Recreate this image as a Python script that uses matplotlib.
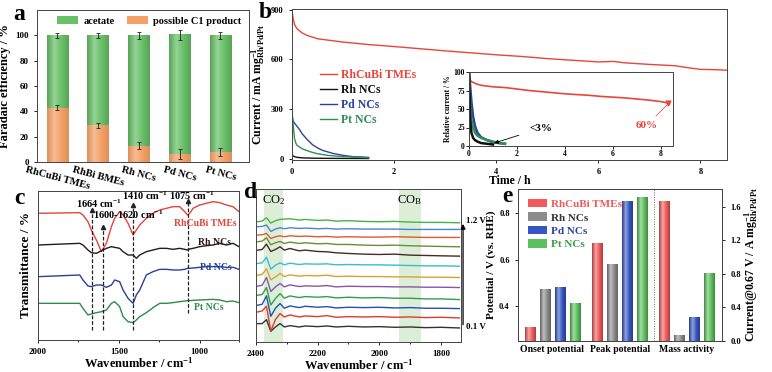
import matplotlib
matplotlib.use("Agg")
import matplotlib.pyplot as plt
from matplotlib.colors import LinearSegmentedColormap, to_rgb
import numpy as np

plt.rcParams['font.family'] = ['Liberation Serif', 'DejaVu Serif']
plt.rcParams['font.weight'] = 'bold'
plt.rcParams['axes.labelweight'] = 'bold'
plt.rcParams['font.size'] = 7
plt.rcParams['axes.linewidth'] = 0.7
plt.rcParams['axes.edgecolor'] = '#444444'
plt.rcParams['xtick.major.size'] = 2.5
plt.rcParams['ytick.major.size'] = 2.5
plt.rcParams['xtick.major.width'] = 0.6
plt.rcParams['ytick.major.width'] = 0.6
plt.rcParams['xtick.labelsize'] = 6.5
plt.rcParams['ytick.labelsize'] = 6.5

# ---- a: faradaic efficiency
cats_a = ['RhCuBi TMEs', 'RhBi BMEs', 'Rh NCs', 'Pd NCs', 'Pt NCs']
fe_c1 = [43, 29, 13, 6, 8]
fe_c1_err = [2, 2, 3, 4, 3]
fe_acetate = [57, 71, 87, 94, 92]
fe_acetate_err = [2, 2, 3, 4, 3]

# ---- b: chronoamperometry
t_rhcubi = [0, 0.02, 0.05, 0.1, 0.2, 0.3, 0.5, 0.75, 1.0, 1.5, 2.0, 2.5, 3.0, 3.5,
            4.0, 4.5, 5.0, 5.5, 6.0, 6.3, 6.5, 7.0, 7.5, 7.8, 8.0, 8.3, 8.52]
i_rhcubi = [900, 850, 810, 785, 760, 745, 725, 715, 705, 690, 678, 665, 652, 640,
            628, 618, 605, 595, 585, 588, 580, 570, 562, 548, 540, 538, 535]
t_pd = [0, 0.02, 0.05, 0.1, 0.15, 0.2, 0.3, 0.4, 0.5, 0.6, 0.8, 1.0, 1.2, 1.5]
i_pd = [260, 230, 215, 195, 175, 150, 115, 85, 65, 50, 32, 20, 12, 8]
t_pt = [0, 0.01, 0.03, 0.05, 0.08, 0.1, 0.2, 0.3, 0.4, 0.5, 0.7, 1.0, 1.3, 1.5]
i_pt = [320, 250, 180, 120, 90, 80, 60, 48, 38, 30, 20, 12, 8, 6]
t_rh = [0, 0.05, 0.1, 0.2, 0.4, 0.7, 1.0, 1.5]
i_rh = [20, 12, 8, 5, 3, 2, 1.5, 1]

# inset: relative current
tr_rhcubi = [0, 0.03, 0.1, 0.3, 0.5, 1, 1.5, 2, 2.5, 3, 3.5, 4, 4.5, 5, 5.5, 6,
             6.5, 7, 7.5, 8, 8.3]
r_rhcubi = [100, 90, 87, 84, 82, 80, 79, 77, 75, 73.5, 72, 70.5, 69.5, 68.5, 67,
            66, 65, 63.5, 62, 60, 58]
tr_fast = [0, 0.05, 0.1, 0.17, 0.25, 0.35, 0.5, 0.75, 1.0, 1.25, 1.5]
r_pd = [100, 80, 60, 40, 27, 18, 12, 8, 5, 4, 3]
r_pt = [100, 55, 35, 25, 18, 14, 11, 8, 6, 4, 3]
r_rh = [100, 35, 18, 11, 8, 6, 4, 3, 2, 1.5, 1]

# ---- c: FTIR
wn_c = [2000, 1742, 1722, 1691, 1670, 1639, 1608, 1577, 1546, 1526, 1495, 1474,
        1443, 1412, 1392, 1371, 1330, 1289, 1247, 1206, 1165, 1124, 1093, 1075,
        1062, 1041, 1000, 959, 918, 876, 835, 794, 757]
ir_rhcubi = [380, 382, 375, 355, 330, 300, 265, 290, 340, 365, 385, 375, 350,
             315, 330, 345, 365, 380, 390, 395, 400, 400, 385, 375, 380, 395,
             405, 410, 415, 412, 405, 400, 385]
ir_rh = [285, 290, 285, 270, 262, 260, 268, 275, 280, 278, 275, 265, 255, 255,
         245, 255, 265, 270, 275, 275, 272, 275, 272, 270, 273, 275, 280, 283,
         285, 290, 285, 290, 280]
ir_pd = [190, 195, 180, 162, 160, 165, 165, 158, 165, 180, 175, 150, 125, 110,
         135, 150, 195, 205, 212, 212, 210, 210, 212, 215, 215, 216, 218, 220,
         220, 220, 218, 218, 212]
ir_pt = [110, 110, 95, 75, 78, 82, 85, 90, 110, 115, 100, 70, 55, 52, 60, 70,
         82, 97, 110, 110, 112, 115, 117, 118, 118, 119, 120, 121, 122, 120,
         115, 117, 112]
peaks_c = [1664, 1600, 1410, 1075]
peak_tops = [390, 340, 405, 418]
peak_bottoms = [30, 30, 30, 80]

# ---- d: in-situ IR
wn_d = [2395, 2380, 2366, 2352, 2337, 2322, 2308, 2290, 2260, 2240, 2200, 2170,
        2140, 2100, 2050, 2000, 1950, 1900, 1850, 1800, 1740]
spectra_d = [
    [50, 50, 62, 27, 40, 50, 40, 44, 40, 43, 41, 43, 40, 42, 40, 41, 39, 40, 38, 39, 37],
    [85, 88, 102, 28, 62, 80, 70, 76, 70, 73, 71, 74, 69, 71, 70, 71, 69, 70, 68, 69, 67],
    [105, 108, 133, 72, 96, 110, 96, 103, 98, 102, 99, 101, 97, 99, 98, 99, 97, 98, 96, 96, 95],
    [135, 137, 158, 106, 125, 140, 126, 133, 128, 131, 129, 131, 127, 129, 127, 128, 126, 126, 124, 124, 122],
    [162, 165, 188, 146, 160, 170, 160, 166, 161, 163, 162, 164, 160, 162, 161, 161, 160, 160, 159, 159, 158],
    [195, 197, 214, 181, 190, 200, 191, 196, 192, 194, 193, 195, 191, 192, 191, 191, 190, 190, 189, 189, 188],
    [230, 232, 249, 213, 225, 232, 226, 231, 227, 229, 228, 229, 226, 227, 226, 226, 225, 224, 223, 223, 222],
    [270, 272, 288, 266, 272, 280, 270, 275, 268, 270, 266, 265, 262, 260, 258, 257, 258, 255, 254, 253, 252],
    [295, 297, 307, 286, 292, 296, 290, 294, 290, 292, 289, 290, 287, 287, 285, 284, 285, 283, 282, 281, 280],
    [315, 316, 320, 305, 310, 313, 310, 313, 311, 312, 310, 311, 309, 310, 309, 309, 310, 309, 308, 308, 308],
    [340, 341, 345, 326, 333, 337, 334, 337, 335, 336, 334, 335, 333, 334, 333, 333, 333, 332, 332, 332, 332],
    [355, 357, 367, 351, 358, 362, 363, 364, 360, 362, 359, 360, 357, 358, 356, 355, 356, 354, 353, 353, 352],
]
colors_d = ['#333333', '#e03a30', '#2450b0', '#2f9e4f', '#8a55a8', '#e0a030',
            '#35c0d0', '#4a2a20', '#6f8a3a', '#e05a30', '#4a86c8', '#47b347']

# ---- e: potentials and mass activity
groups_e = ['Onset potential', 'Peak potential', 'Mass activity']
names_e = ['RhCuBi TMEs', 'Rh NCs', 'Pd NCs', 'Pt NCs']
onset = [0.31, 0.47, 0.48, 0.41]
peak = [0.67, 0.58, 0.85, 0.87]
mass_act = [1.66, 0.07, 0.28, 0.80]

red = '#e8453c'
blue = '#2b42a0'
green = '#2f8f55'

fig = plt.figure(figsize=(7.72, 3.72), dpi=100)
W, H = 772, 372


def box(l, t, r, b):
    return [l / W, 1 - b / H, (r - l) / W, (b - t) / H]


def shade(ax, bars, color, dark=0.7, light=0.45):
    # cylinder-like shading on each bar, kept inside the y limits
    base = np.array(to_rgb(color))
    cmap = LinearSegmentedColormap.from_list(
        'g', [base * dark, base + (1 - base) * light, base, base * dark])
    grad = np.linspace(0, 1, 64).reshape(1, -1)
    ymin = ax.get_ylim()[0]
    for b in bars:
        x0, y0, w, h = b.get_x(), b.get_y(), b.get_width(), b.get_height()
        ax.imshow(grad, cmap=cmap, extent=[x0, x0 + w, max(y0, ymin), y0 + h],
                  aspect='auto', zorder=b.get_zorder() + 0.1,
                  interpolation='bilinear')


# ================= a
ax = fig.add_axes(box(37, 10, 249, 162))
x = np.arange(len(cats_a))
ax.set_ylim(0, 120)
ax.set_xlim(-0.5, 4.7)
b1 = ax.bar(x, fe_c1, width=0.53, color='#f4a066', label='possible C1 product')
b2 = ax.bar(x, fe_acetate, width=0.53, bottom=fe_c1, color='#68c068',
            label='acetate')
shade(ax, b1, '#f4a066', dark=0.9, light=0.3)
shade(ax, b2, '#68c068', dark=0.85, light=0.3)
ax.errorbar(x, fe_c1, yerr=fe_c1_err, fmt='none', ecolor='#222222', lw=0.6,
            capsize=1.5, capthick=0.6, zorder=5)
ax.errorbar(x, np.add(fe_c1, fe_acetate), yerr=fe_acetate_err, fmt='none',
            ecolor='#222222', lw=0.6, capsize=1.5, capthick=0.6, zorder=5)
h, l = ax.get_legend_handles_labels()
ax.legend(h[::-1], l[::-1], ncol=2, loc='upper center', frameon=False,
          fontsize=7.5, handlelength=2.0, handleheight=0.8, columnspacing=1.2,
          handletextpad=0.5, bbox_to_anchor=(0.53, 1.02))
ax.set_ylim(0, 120)
ax.set_xlim(-0.5, 4.7)
ax.set_yticks([0, 20, 40, 60, 80, 100])
ax.set_xticks(x)
ax.set_xticklabels(cats_a, rotation=-15, ha='center', fontsize=7.5)
ax.set_ylabel('Faradaic efficiency / %', fontsize=9, labelpad=3)
ax.tick_params(axis='x', length=0, pad=2)
fig.text(19 / W, 1 - 14 / H, 'a', fontsize=17, va='center', ha='center')

# ================= b
ax = fig.add_axes(box(292, 9, 727, 160))
ax.plot(t_rhcubi, i_rhcubi, color=red, lw=1.0, label='RhCuBi TMEs')
ax.plot(t_rh, i_rh, color='#111111', lw=1.0, label='Rh NCs')
ax.plot(t_pd, i_pd, color=blue, lw=1.0, label='Pd NCs')
ax.plot(t_pt, i_pt, color=green, lw=1.0, label='Pt NCs')
ax.set_xlim(0, 8.52)
ax.set_ylim(-8, 905)
ax.set_xticks([0, 2, 4, 6, 8])
ax.set_yticks([0, 300, 600, 900])
ax.tick_params(labelsize=6)
ax.set_xlabel('Time / h', fontsize=8.5, labelpad=-1)
ax.set_ylabel(r'Current / mA $\mathregular{mg^{-1}_{Rh/Pd/Pt}}$', fontsize=8.5,
              labelpad=2)
leg = ax.legend(loc='upper left', bbox_to_anchor=(0.04, 0.67), frameon=False,
                fontsize=8.5, handlelength=1.4, handletextpad=0.4, labelspacing=0.25)
for txt, ln in zip(leg.get_texts(), leg.get_lines()):
    txt.set_color(ln.get_color())
fig.text(265 / W, 1 - 12 / H, 'b', fontsize=17, va='center', ha='center')

ins = fig.add_axes(box(469, 72, 673, 146))
ins.plot(tr_rhcubi, r_rhcubi, color=red, lw=1.2)
ins.plot(tr_fast, r_pd, color=blue, lw=1.8)
ins.plot(tr_fast, r_pt, color=green, lw=1.8)
ins.plot(tr_fast[:9], r_rh[:9], color='#111111', lw=1.8)
ins.plot([8.3], [58], marker='v', color=red, ms=3.5)
ins.annotate('60%', xy=(8.3, 57), xytext=(7.4, 28), color=red, fontsize=8,
             ha='center', va='center',
             arrowprops=dict(arrowstyle='-', color=red, lw=0.5, shrinkA=2, shrinkB=1))
ins.annotate('<3%', xy=(1.05, 4), xytext=(3.0, 24), color='k', fontsize=8,
             ha='center', va='center',
             arrowprops=dict(arrowstyle='-|>', color='k', lw=0.6,
                             mutation_scale=6, shrinkA=6, shrinkB=0))
ins.set_xlim(0, 8.5)
ins.set_ylim(0, 100)
ins.set_xticks([0, 2, 4, 6, 8])
ins.set_yticks([0, 25, 50, 75, 100])
ins.tick_params(labelsize=5.5, length=2, pad=1)
ins.set_ylabel('Relative current / %', fontsize=5.5, labelpad=1)

# ================= c
ax = fig.add_axes(box(38, 191, 239, 340))
ax.plot(wn_c, ir_rhcubi, color='#e0463a', lw=1.0)
ax.plot(wn_c, ir_rh, color='#2a1818', lw=1.0)
ax.plot(wn_c, ir_pd, color='#27419a', lw=1.0)
ax.plot(wn_c, ir_pt, color='#2e8b4e', lw=1.0)
for p, top, bot in zip(peaks_c, peak_tops, peak_bottoms):
    ax.plot([p, p], [bot, top], ls=(0, (3, 1.5)), color='#222222', lw=0.9)
    ax.plot([p], [top], marker='^', color='#222222', ms=3)
ax.text(1622, 410, r'1664 cm$\mathregular{^{-1}}$', fontsize=7.5, ha='center', va='center')
ax.text(1443, 377, r'1600-1620 cm$\mathregular{^{-1}}$', fontsize=7.5, ha='center', va='center')
ax.text(1340, 432, r'1410 cm$\mathregular{^{-1}}$', fontsize=7.5, ha='center', va='center')
ax.text(1045, 432, r'1075 cm$\mathregular{^{-1}}$', fontsize=7.5, ha='center', va='center')
ax.text(965, 350, 'RhCuBi TMEs', color='#e0463a', fontsize=7, ha='center', va='center')
ax.text(907, 293, 'Rh NCs', color='#2a1818', fontsize=7, ha='center', va='center')
ax.text(901, 218, 'Pd NCs', color='#27419a', fontsize=7, ha='center', va='center')
ax.text(942, 96, 'Pt NCs', color='#2e8b4e', fontsize=7, ha='center', va='center')
ax.set_xlim(2000, 757)
ax.set_ylim(0, 447)
ax.set_xticks([2000, 1500, 1000])
ax.set_xticks([1750, 1250, 757], minor=True)
ax.tick_params(axis='x', which='minor', length=1.5)
ax.set_yticks([])
ax.set_xlabel(r'Wavenumber / cm$\mathregular{^{-1}}$', fontsize=9, labelpad=0)
ax.set_ylabel('Transmittance / %', fontsize=9.5, labelpad=4)
fig.text(19 / W, 1 - 198 / H, 'c', fontsize=17, va='center', ha='center')

# ================= d
ax = fig.add_axes(box(256, 189, 461, 342))
ax.axvspan(2373, 2313, color='#cfe8c8', alpha=0.7, lw=0)
ax.axvspan(1935, 1865, color='#cfe8c8', alpha=0.7, lw=0)
for s, c in zip(spectra_d, colors_d):
    ax.plot(wn_d, s, color=c, lw=1.0)
ax.set_xlim(2400, 1735)
ax.set_ylim(-5, 453)
ax.set_xticks([2400, 2200, 2000, 1800])
ax.set_xticks([2300, 2100, 1900], minor=True)
ax.tick_params(axis='x', which='minor', length=1.5)
ax.set_yticks([])
ax.set_xlabel(r'Wavenumber / cm$\mathregular{^{-1}}$', fontsize=9, labelpad=0)
ax.text(0.03, 0.93, r'CO$\mathregular{_2}$', transform=ax.transAxes, fontsize=9,
        fontweight='normal', va='center')
ax.text(0.69, 0.93, r'CO$\mathregular{_B}$', transform=ax.transAxes, fontsize=9,
        fontweight='normal', va='center')
ax.annotate('', xy=(1.01, 0.79), xytext=(1.01, 0.095), xycoords='axes fraction',
            arrowprops=dict(arrowstyle='-|>', color='k', lw=0.9, mutation_scale=7))
ax.text(1.025, 0.79, '1.2 V', transform=ax.transAxes, fontsize=6.5, va='center')
ax.text(1.025, 0.1, '0.1 V', transform=ax.transAxes, fontsize=6.5, va='center')
fig.text(251 / W, 1 - 193 / H, 'd', fontsize=17, va='center', ha='center')

# ================= e
ax = fig.add_axes(box(518, 189, 722, 341))
ax2 = ax.twinx()
ax.set_xlim(-2.3, 11.35)
ax2.set_xlim(-2.3, 11.35)
ax.set_ylim(0.25, 0.905)
ax2.set_ylim(0, 1.81)
colors_e = ['#f25a5a', '#8c8c8c', '#3656c2', '#5cc05c']
offs = [-1.5, -0.5, 0.5, 1.5]
for k in range(4):
    bl = ax.bar([0 + offs[k], 4.5 + offs[k]], [onset[k], peak[k]], width=0.7,
                color=colors_e[k], label=names_e[k])
    br = ax2.bar([9 + offs[k]], [mass_act[k]], width=0.7, color=colors_e[k])
    shade(ax, bl, colors_e[k])
    shade(ax2, br, colors_e[k])
ax.axvline(6.8, color='#666666', lw=0.7, ls=(0, (1, 1.5)))
ax.set_xlim(-2.3, 11.35)
ax2.set_xlim(-2.3, 11.35)
ax.set_ylim(0.25, 0.905)
ax2.set_ylim(0, 1.81)
ax.set_yticks([0.4, 0.6, 0.8])
ax2.set_yticks([0.0, 0.4, 0.8, 1.2, 1.6])
ax.set_xticks([0, 4.5, 9])
ax.set_xticklabels(groups_e, fontsize=7)
ax.tick_params(axis='x', length=0, pad=3)
ax.tick_params(axis='y', labelsize=6)
ax2.tick_params(axis='y', labelsize=6)
ax.set_ylabel('Potential / V (vs. RHE)', fontsize=8, labelpad=2)
ax2.set_ylabel(r'Current@0.67 V / A $\mathregular{mg^{-1}_{Rh/Pd/Pt}}$',
               fontsize=8.5, labelpad=1)
leg = ax.legend(loc='upper left', bbox_to_anchor=(0.0, 1.0), frameon=False,
                fontsize=8, handlelength=1.7, handleheight=0.8,
                handletextpad=0.4, labelspacing=0.3)
leg.set_zorder(10)
for txt, c in zip(leg.get_texts(), ['#f25a5a', '#333333', '#2b42a0', '#3a9a4a']):
    txt.set_color(c)
fig.text(507 / W, 1 - 197 / H, 'e', fontsize=17, va='center', ha='center')

fig.savefig('out.png', dpi=100)
